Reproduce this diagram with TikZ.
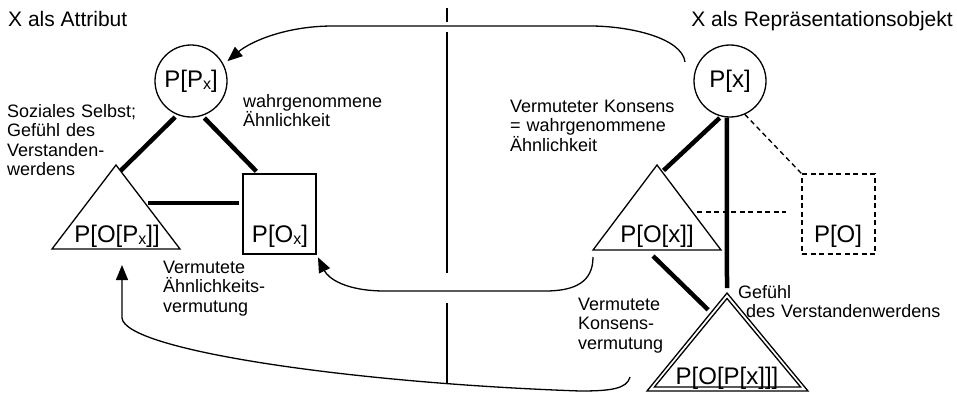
\documentclass[tikz,border=0pt]{standalone}
\usepackage{fontspec}
\setmainfont{Liberation Sans}
\usetikzlibrary{arrows.meta,calc}
\newcommand\mysubx{\raisebox{-2pt}{\fontsize{16}{16}\selectfont x}}
\begin{document}
\begin{tikzpicture}[x=1pt,y=-1pt,
  thinln/.style={line width=1.3pt},
  thickln/.style={line width=4.5pt},
  dashln/.style={line width=1.3pt, dash pattern=on 5pt off 3.5pt},
  lbl/.style={font=\fontsize{18}{19.5}\selectfont, anchor=base west, inner sep=0pt, text width=220pt, align=left},
  hdr/.style={font=\fontsize{21}{24}\selectfont, inner sep=0pt},
  ntext/.style={font=\fontsize{24}{28}\selectfont, inner sep=0pt},
  circ/.style={circle, draw, line width=1.3pt, minimum size=72pt, inner sep=0pt, ntext},
  sq/.style={rectangle, draw, line width=1.3pt, minimum width=73pt, minimum height=80pt, inner sep=0pt},
  dsq/.style={rectangle, dashln, draw, minimum width=73pt, minimum height=80pt, inner sep=0pt},
  arr/.style={line width=1.3pt, -{Triangle[length=15pt,width=12pt]}},
  line join=miter]
\fill[white] (0,0) rectangle (957,396);
\useasboundingbox (0,0) rectangle (957,396);

% headers
\node[hdr, anchor=base west] (h1) at (8,27) {X als Attribut};
\node[hdr, anchor=base east] (h2) at (953,27) {X als Repräsentationsobjekt};

% divider
\coordinate (d0) at (447,8);
\coordinate (d1) at (447,22);
\coordinate (d2) at (447,32);
\coordinate (d3) at (447,273);
\coordinate (d4) at (447,303);
\coordinate (d5) at (447,383);
\draw[line width=1.5pt] (d0) -- (d1) (d2) -- (d3) (d4) -- (d5);

% left side
\node[circ] (ppx) at (191,81) {P[P\mysubx]};
\node[sq] (pox) at (279.5,214) {};
\node[ntext, anchor=base] (poxt) at (280,242) {P[O\mysubx]};
\coordinate (tlA) at (116,165);
\coordinate (tlL) at (52,249);
\coordinate (tlR) at (180,249);
\coordinate (tlB) at (116,249);
\draw[thinln] (tlA) -- (tlR) -- (tlL) -- cycle;
\node[ntext, anchor=base] (tlt) at (117,242) {P[O[P\mysubx]]};

% right side
\node[circ] (px) at (730,81) {P[x]};
\node[dsq] (po) at (838.5,214) {};
\node[ntext, anchor=base] (pot) at (838,242) {P[O]};
\coordinate (tmA) at (657,165);
\coordinate (tmL) at (593,250);
\coordinate (tmR) at (721,250);
\coordinate (tmB) at (657,250);
\draw[thinln] (tmA) -- (tmR) -- (tmL) -- cycle;
\node[ntext, anchor=base] (tmt) at (657,242) {P[O[x]]};
\coordinate (tbA) at (727,293);
\coordinate (tbL) at (647,391);
\coordinate (tbR) at (808,391);
\draw[thinln] (tbA) -- (tbR) -- (tbL) -- cycle;
\draw[thinln] (727,298.5) -- (800.6,387) -- (654.4,387) -- cycle;
\node[ntext, anchor=base] (tbt) at (727,384) {P[O[P[x]]]};

% labels
\node[lbl] (soz) at (7,117) {Soziales Selbst;\\Gefühl des\\Verstanden-\\werdens};
\node[lbl] (wahr) at (243,107) {wahrgenommene\\Ähnlichkeit};
\node[lbl] (vk) at (510,112) {Vermuteter Konsens\\= wahrgenommene\\Ähnlichkeit};
\node[lbl] (vae) at (163,273) {Vermutete\\Ähnlichkeits-\\vermutung};
\node[lbl] (vkv) at (578,310) {Vermutete\\Konsens-\\vermutung};
\node[lbl] (gef) at (738,298) {Gefühl\\\hspace*{8pt}des Verstandenwerdens};

% thick connectors left
\draw[thickln, shorten <=3pt] (ppx.248) -- ($(tlA)!0.07!(tlR)$);
\draw[thickln, shorten <=3pt] (ppx.288) -- ([xshift=14pt,yshift=2pt]pox.north west);
\coordinate (tlE) at ($(tlA)!0.452!(tlR)$);
\draw[thickln, shorten <=3pt, shorten >=3pt] (tlE) -- (tlE -| pox.west);

% connectors right
\draw[thickln, shorten <=2pt, shorten >=2pt] (px.256) -- ($(tmA)!0.08!(tmR)$);
\draw[thickln] (px.265) -- ([yshift=5pt]tbA);
\draw[dashln] (px.294) -- (po.north west);
\coordinate (tmE) at ($(tmA)!0.553!(tmR)$);
\draw[dashln, shorten <=5pt, shorten >=15pt] (tmE) -- (tmE -| po.west);
\draw[thickln, shorten >=4pt] ([xshift=-4pt,yshift=-6pt]tmB) -- ($(tbA)!0.2!(tbL)$);

% arrows
\coordinate (a1s) at (685,62);
\draw[arr, shorten >=5pt] (a1s) .. controls (682,38) and (630,26) .. (590,26) -- (333,26) .. controls (285,26) and (250,42) .. (ppx.27);
\coordinate (a2s) at ([yshift=-7pt]tmL);
\draw[arr, shorten >=3pt] (a2s) .. controls (593,282) and (575,291) .. (545,291) -- (385,291) .. controls (345,291) and (328,278) .. (pox.south east);
\coordinate (a3s) at (630,377);
\coordinate (a3e) at ([xshift=6pt,yshift=-16pt]tlB);
\draw[arr] (a3s) .. controls (627,389) and (610,391) .. (580,391) .. controls (350,383) and (125,350) .. (122,318) -- (a3e);
\end{tikzpicture}
\end{document}
